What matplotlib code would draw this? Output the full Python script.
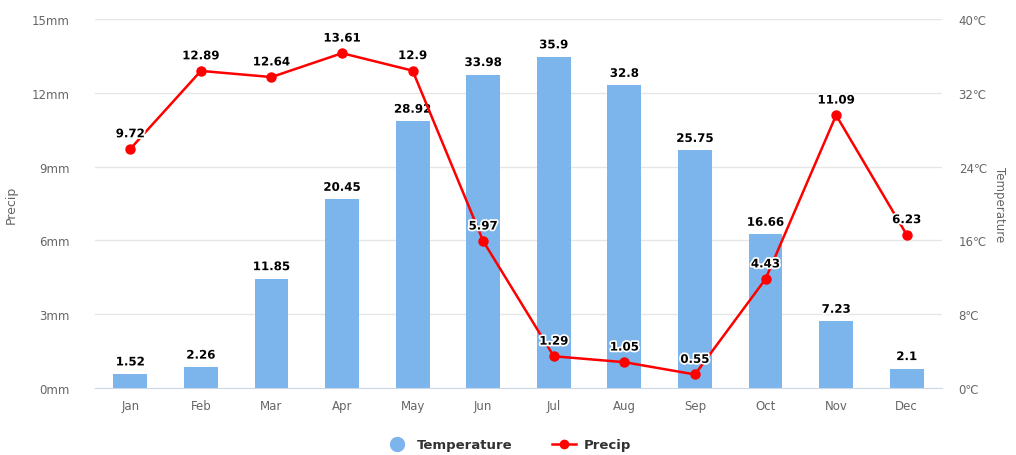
import numpy as np
import matplotlib
matplotlib.use("Agg")
import matplotlib.pyplot as plt
import matplotlib.patheffects as pe
from matplotlib.lines import Line2D

months = ["Jan", "Feb", "Mar", "Apr", "May", "Jun", "Jul", "Aug", "Sep", "Oct", "Nov", "Dec"]
temperature = [1.52, 2.26, 11.85, 20.45, 28.92, 33.98, 35.9, 32.8, 25.75, 16.66, 7.23, 2.1]
precip = [9.72, 12.89, 12.64, 13.61, 12.9, 5.97, 1.29, 1.05, 0.55, 4.43, 11.09, 6.23]
precip_ticks = [0, 3, 6, 9, 12, 15]
temp_ticks = [0, 8, 16, 24, 32, 40]

bar_color = "#7cb5ec"
line_color = "#ff0000"
label_color = "#666666"

fig = plt.figure(figsize=(10.16, 4.56), dpi=100)
ax = fig.add_axes([95 / 1016, 1 - 389 / 456, (942 - 95) / 1016, (389 - 20) / 456])
ax2 = ax.twinx()

x = np.arange(len(months))
outline = [pe.withStroke(linewidth=2.5, foreground="white")]

# gridlines behind the bars
for t in temp_ticks[1:]:
    ax2.axhline(t, color="#e6e6e6", lw=1, zorder=0)

# bars on the right (temperature) axis
ax2.bar(x, temperature, width=0.48, color=bar_color, zorder=2)
for xi, v in zip(x, temperature):
    ax2.text(xi, v + 0.6, f"{v:g}", ha="center", va="bottom", fontsize=8.5,
             fontweight="bold", color="#000000", path_effects=outline, zorder=5)

# line on the left (precip) axis, drawn above bars
ax.set_zorder(ax2.get_zorder() + 1)
ax.patch.set_visible(False)
ax.plot(x, precip, color=line_color, lw=1.8, marker="o", ms=6.5, zorder=3)
for xi, v in zip(x, precip):
    ax.text(xi, v + 0.35, f"{v:g}", ha="center", va="bottom", fontsize=8.5,
            fontweight="bold", color="#000000", path_effects=outline, zorder=6)

ax.set_xlim(-0.5, len(months) - 0.5)
ax.set_ylim(0, 15)
ax2.set_ylim(0, 40)
ax.set_yticks(precip_ticks)
ax.set_yticklabels([f"{t}mm" for t in precip_ticks])
ax2.set_yticks(temp_ticks)
ax2.set_yticklabels([f"{t}℃" for t in temp_ticks])
ax.set_xticks(x)
ax.set_xticklabels(months)

for a in (ax, ax2):
    for s in a.spines.values():
        s.set_visible(False)
    a.tick_params(axis="y", length=0, labelsize=8.5, labelcolor=label_color)
ax.tick_params(axis="y", pad=18)
ax2.tick_params(axis="y", pad=12)
ax.tick_params(axis="x", length=0, labelsize=8.5, labelcolor=label_color, pad=8)
ax.spines["bottom"].set_visible(True)
ax.spines["bottom"].set_color("#ccd6eb")

ax.set_ylabel("Precip", color=label_color, fontsize=9, labelpad=10)
ax2.set_ylabel("Temperature", color=label_color, fontsize=8.5, rotation=270, labelpad=14)

handles = [
    Line2D([], [], marker="o", color="none", markerfacecolor=bar_color,
           markeredgecolor=bar_color, ms=10),
    Line2D([], [], marker="o", color=line_color, lw=1.8, ms=6),
]
leg = fig.legend(handles, ["Temperature", "Precip"], loc="center",
                 bbox_to_anchor=(0.5, 1 - 446 / 456), ncol=2, frameon=False,
                 prop={"weight": "bold", "size": 9.5}, columnspacing=3,
                 handlelength=1.8, handletextpad=0.6)
for t in leg.get_texts():
    t.set_color("#333333")

fig.savefig("out.png", dpi=100)
